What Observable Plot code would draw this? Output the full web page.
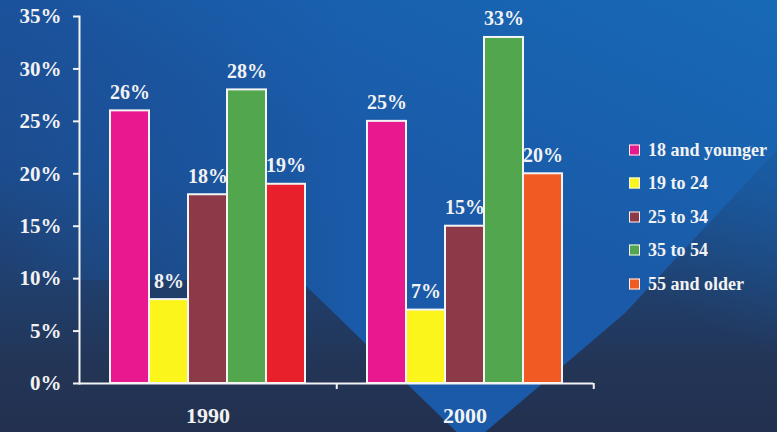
<!DOCTYPE html>
<html>
<head>
<meta charset="utf-8">
<script src="https://cdn.jsdelivr.net/npm/d3@7"></script>
<script src="https://cdn.jsdelivr.net/npm/@observablehq/plot@0.6"></script>
<style>
  html, body { margin: 0; padding: 0; }
  body { width: 777px; height: 432px; overflow: hidden; }
  #wrap { position: relative; width: 777px; height: 432px; overflow: hidden;
    background: linear-gradient(180deg, #1b529b 0%, #1c4c8d 40%, #203f6d 65%, #233556 85%, #23304f 100%); }
  .bg { position: absolute; left: 0; top: 0; width: 777px; height: 432px; }
  #light { background: linear-gradient(90deg, rgba(26,88,166,0) 0%, rgba(26,88,166,0.6) 25%, rgba(26,90,168,1) 45%);
    clip-path: polygon(0px 0px, 777px 0px, 777px 150px, 625px 313px, 470px 445px, 300px 280px, 0px 280px); }
  #topright { background: linear-gradient(205deg, #1769b6 0%, rgba(23,105,182,0.45) 25%, rgba(23,105,182,0) 45%); }
  #chart { position: absolute; left: 0; top: 0; }
  #legend { position: absolute; left: 629px; top: 0; font-family: "Liberation Serif", "Times New Roman", "DejaVu Serif", serif;
    font-weight: bold; font-size: 18px; color: #f2f2f2; }
  .item { position: absolute; left: 0; display: flex; align-items: center; white-space: nowrap; transform: translateY(-50%); }
  .sw { width: 9px; height: 9px; border: 1.5px solid #f4f4f4; margin-right: 8px; }
</style>
</head>
<body>
<div id="wrap">
  <div class="bg" id="light"></div>
  <div class="bg" id="topright"></div>
  <div id="chart"></div>
  <div id="legend"></div>
</div>
<script>
const years = ["1990", "2000"];
const ageGroups = ["18 and younger", "19 to 24", "25 to 34", "35 to 54", "55 and older"];
const share1990 = [26, 8, 18, 28, 19];
const share2000 = [25, 7, 15, 33, 20];
const yTicks = [0, 5, 10, 15, 20, 25, 30, 35];

// styles (kept apart from the data)
const ageColors = ["#e8198f", "#fbf51c", "#8c3a48", "#52a64d", "#f25a24"];
const barColors = {
  "1990": ["#e8198f", "#fbf51c", "#8c3a48", "#52a64d", "#e8202c"],
  "2000": ["#e8198f", "#fbf51c", "#8c3a48", "#52a64d", "#f25a24"]
};

const shares = {"1990": share1990, "2000": share2000};
const rows = years.flatMap(year => ageGroups.map((age, i) => ({
  year, age, value: shares[year][i], color: barColors[year][i]
})));

const serif = '"Liberation Serif", "Times New Roman", "DejaVu Serif", serif';

const plot = Plot.plot({
  width: 777,
  height: 432,
  marginLeft: 78,
  marginRight: 184,
  marginTop: 16,
  marginBottom: 49,
  style: {background: "transparent", color: "#f2f2f2", fontFamily: serif, fontWeight: "bold", overflow: "visible"},
  fx: {domain: years, padding: 0, label: null},
  x: {domain: ageGroups, padding: 0, insetLeft: 29, insetRight: 30, axis: null},
  y: {domain: [0, 35], label: null},
  color: {type: "identity"},
  marks: [
    Plot.barY(rows, {fx: "year", x: "age", y: "value", fill: "color", stroke: "#f4f4f4", strokeWidth: 2}),
    Plot.text(rows, {fx: "year", x: "age", y: "value", text: d => d.value + "%", dy: -12, lineAnchor: "bottom",
      fill: "#f2f2f2", fontSize: 20, fontWeight: "bold", fontFamily: serif}),
    Plot.ruleY([0], {stroke: "#f4f4f4", strokeWidth: 2}),
    Plot.frame({anchor: "left", facet: "super", stroke: "#f4f4f4", strokeWidth: 2}),
    Plot.axisY({ticks: yTicks, tickFormat: d => d + "%", tickSize: 6, tickPadding: 12, strokeWidth: 2,
      fontSize: 21, fontFamily: serif, label: null}),
    Plot.axisFx({anchor: "bottom", tickSize: 0, tickPadding: 24, fontSize: 22, fontFamily: serif, label: null}),
    Plot.axisFx({anchor: "bottom", tickSize: 6, tickFormat: () => "", strokeWidth: 2, dx: 128.75, label: null})
  ]
});
document.getElementById("chart").appendChild(plot);

const legend = document.getElementById("legend");
const legendY = [149.5, 183, 216.5, 250, 283.5];
ageGroups.forEach((age, i) => {
  const item = document.createElement("div");
  item.className = "item";
  item.style.top = legendY[i] + "px";
  const sw = document.createElement("span");
  sw.className = "sw";
  sw.style.background = ageColors[i];
  const label = document.createElement("span");
  label.textContent = age;
  item.appendChild(sw);
  item.appendChild(label);
  legend.appendChild(item);
});
</script>
</body>
</html>
